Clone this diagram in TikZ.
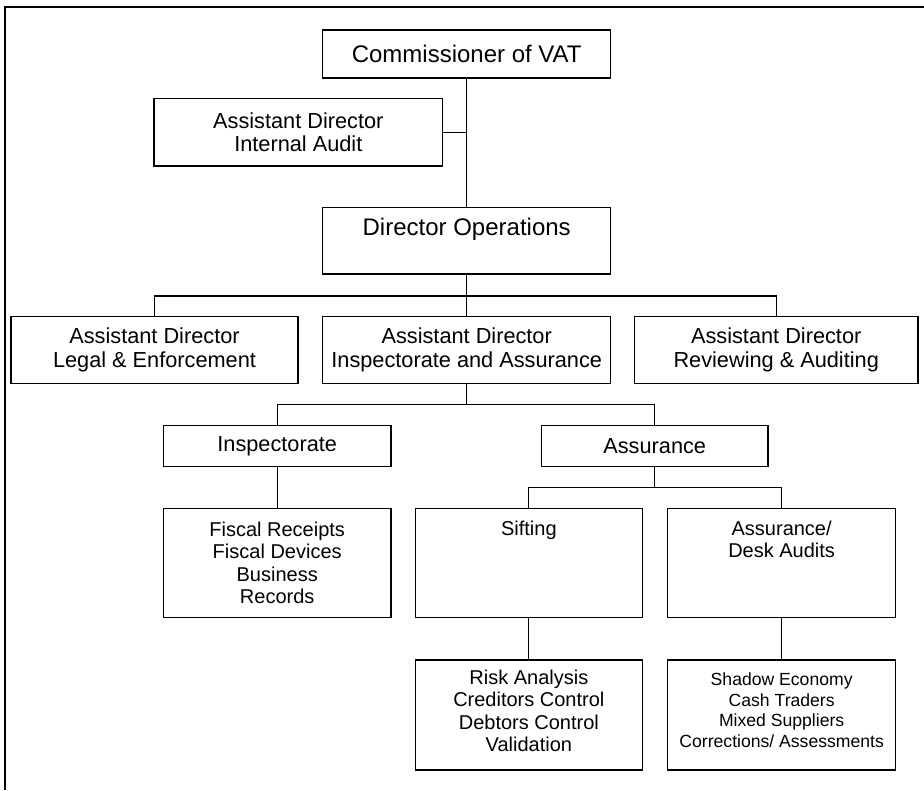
\documentclass[tikz,border=0pt]{standalone}
\usepackage{fontspec}
\setmainfont{Liberation Sans}
\begin{document}
\begin{tikzpicture}[x=0.75pt,y=-0.75pt,
  box/.style 2 args={draw, line width=0.9pt, inner sep=0pt, align=center,
    minimum width=#1*0.75pt, minimum height=#2*0.75pt},
  big/.style={font=\fontsize{18}{21.6}\selectfont},
  mid/.style={font=\fontsize{16.3}{17.5}\selectfont},
  small/.style={font=\fontsize{15}{16.9}\selectfont},
  tiny/.style={font=\fontsize{13.2}{15.4}\selectfont},
  link/.style={line width=0.9pt}]
\useasboundingbox (0,0) rectangle (924,790);
% outer frame (cut off at right and bottom)
\draw[line width=1.1pt] (924,7) -- (5,7) -- (5,790);

\node[box={288}{48}, big] (comm) at (466.7,54) {Commissioner of VAT};
\node[box={288.7}{67.5}, mid] (ia) at (298.3,132.3) {Assistant Director\\Internal Audit};
\node[box={288}{66.7}] (dir) at (466.7,240.7) {};
\node[big, anchor=base] (dirtext) at (466.7,235) {Director Operations};

\node[box={287}{67}, mid] (legal) at (154.5,350) {Assistant Director\\Legal \& Enforcement};
\node[box={288}{67}, mid] (midad) at (466.7,350) {Assistant Director\\Inspectorate and Assurance};
\node[box={283.5}{67}, mid] (review) at (776.2,350) {Assistant Director\\Reviewing \& Auditing};

\node[box={227.5}{41.2}, mid] (insp) at (277.2,446.1) {Inspectorate};
\node[box={226.5}{41.2}, mid] (assur) at (654.7,446.1) {Assurance};

\node[box={227.5}{109.4}, small] (fiscal) at (277.2,563) {Fiscal Receipts\\Fiscal Devices\\Business\\Records};
\node[box={226.9}{108.9}] (sift) at (528.85,562.75) {};
\node[small, anchor=base] (sifttext) at (528.85,535) {Sifting};
\node[box={228.1}{108.9}] (desk) at (781.65,562.75) {};
\node[small, anchor=base] (desktext1) at (781.65,535) {Assurance/};
\node[small, anchor=base] (desktext2) at (781.65,557) {Desk Audits};

\node[box={226.9}{110}] (risk) at (528.85,715) {};
\node[small, align=center] (risktext) at (528.85,711) {Risk Analysis\\Creditors Control\\Debtors Control\\Validation};
\node[box={228.1}{110}] (shadow) at (781.65,715) {};
\node[tiny, align=center] (shadowtext) at (781.65,710) {Shadow Economy\\Cash Traders\\Mixed Suppliers\\Corrections/ Assessments};

% connectors
\coordinate (bus1) at (466.7,296);
\coordinate (bus2) at (466.7,404.3);
\coordinate (bus3) at (654.7,487.7);
\draw[link] (comm.south) -- (dir.north);
\draw[link] (ia.east) -- (ia.east -| comm.south);
\draw[link] (dir.south) -- (midad.north);
\draw[link] (legal.north) |- (bus1) -| (review.north);
\draw[link] (midad.south) -- (bus2);
\draw[link] (insp.north) |- (bus2) -| (assur.north);
\draw[link] (insp.south) -- (fiscal.north);
\draw[link] (assur.south) -- (bus3);
\draw[link] (sift.north) |- (bus3) -| (desk.north);
\draw[link] (sift.south) -- (risk.north);
\draw[link] (desk.south) -- (shadow.north);
\end{tikzpicture}
\end{document}
